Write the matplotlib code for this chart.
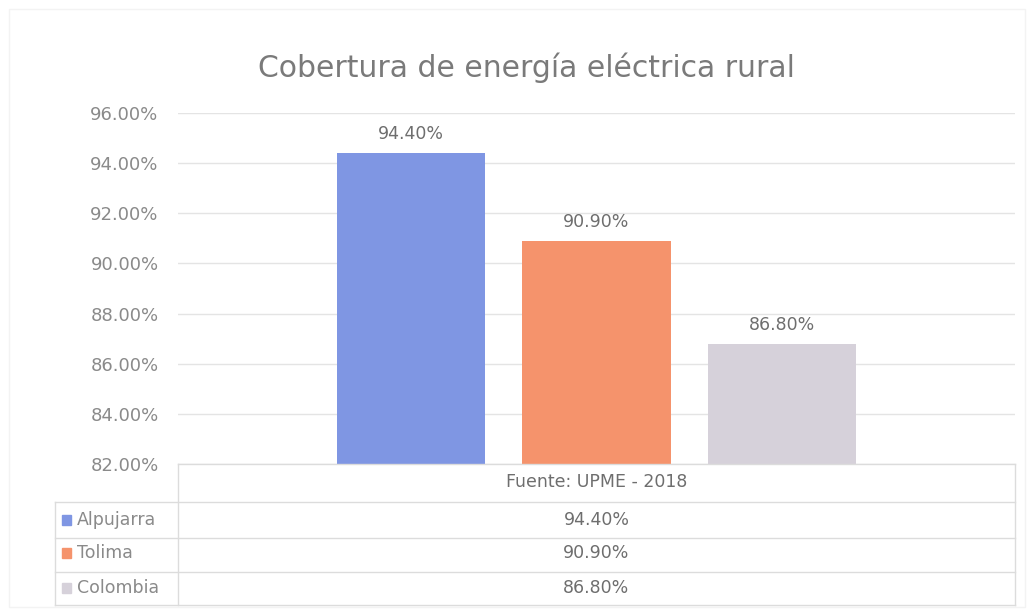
import numpy as np
import matplotlib.pyplot as plt
from matplotlib.lines import Line2D
from matplotlib.patches import Rectangle

# datos
series = ["Alpujarra", "Tolima", "Colombia"]
valores = [94.40, 90.90, 86.80]
colores = ["#7f96e3", "#f5936c", "#d6d1da"]
categoria = "Fuente: UPME - 2018"
yticks = [82, 84, 86, 88, 90, 92, 94, 96]

W, H = 1032, 615
fig = plt.figure(figsize=(W / 100, H / 100), dpi=100)
plt.rcParams['font.family'] = ['DejaVu Sans']
gris = "#8a8a8a"
oscuro = "#6e6e6e"
fs = 12.5

x0, x1 = 178, 1015
ytop, ybot = 113, 464
ax = fig.add_axes([x0 / W, 1 - ybot / H, (x1 - x0) / W, (ybot - ytop) / H])

offsets = np.array([-0.222, 0.0, 0.222])
ancho = 0.177
for off, v, c in zip(offsets, valores, colores):
    ax.bar(off, v - 82, bottom=82, width=ancho, color=c, zorder=3)
    ax.text(off, v + 0.4, f"{v:.2f}%", ha="center", va="bottom",
            fontsize=fs, color=oscuro)

ax.set_xlim(-0.5, 0.5)
ax.set_ylim(82, 96)
ax.set_yticks(yticks)
ax.set_yticklabels([f"{t:.2f}%" for t in yticks], fontsize=13, color=gris)
ax.tick_params(axis="y", length=0, pad=14)
ax.set_xticks([])
ax.grid(axis="y", color="#e4e4e4", linewidth=1, zorder=0)
for s in ax.spines.values():
    s.set_visible(False)

fig.text(526 / W, 1 - 68 / H, "Cobertura de energía eléctrica rural",
         ha="center", va="center", fontsize=21.5, color="#7a7a7a")

# borde del gráfico
fig.add_artist(Rectangle((9 / W, 8 / H), 1016 / W, 598 / H, fill=False,
                         edgecolor="#f3f3f3", linewidth=1,
                         transform=fig.transFigure))

# tabla de datos
lc = "#dcdcdc"
def hline(y, xa, xb):
    fig.add_artist(Line2D([xa / W, xb / W], [1 - y / H, 1 - y / H],
                          color=lc, linewidth=1))
def vline(x, ya, yb):
    fig.add_artist(Line2D([x / W, x / W], [1 - ya / H, 1 - yb / H],
                          color=lc, linewidth=1))

hline(ybot, x0, x1)
rows_y = [502, 538, 572, 605]
for y in rows_y:
    hline(y, 55, x1)
vline(55, 502, 605)
vline(x0, ybot, 605)
vline(x1, ybot, 605)

fig.text((x0 + x1) / 2 / W, 1 - 482 / H, categoria, ha="center", va="center",
         fontsize=fs, color=oscuro)
centers = [520, 553, 588]
for name, v, c, yc in zip(series, valores, colores, centers):
    fig.add_artist(Rectangle((62 / W, 1 - (yc + 5) / H), 9 / W, 10 / H,
                             color=c, transform=fig.transFigure))
    fig.text(77 / W, 1 - yc / H, name, ha="left", va="center",
             fontsize=fs, color=gris)
    fig.text((x0 + x1) / 2 / W, 1 - yc / H, f"{v:.2f}%", ha="center",
             va="center", fontsize=fs, color=oscuro)

fig.savefig("out.png", dpi=100, facecolor="white")
